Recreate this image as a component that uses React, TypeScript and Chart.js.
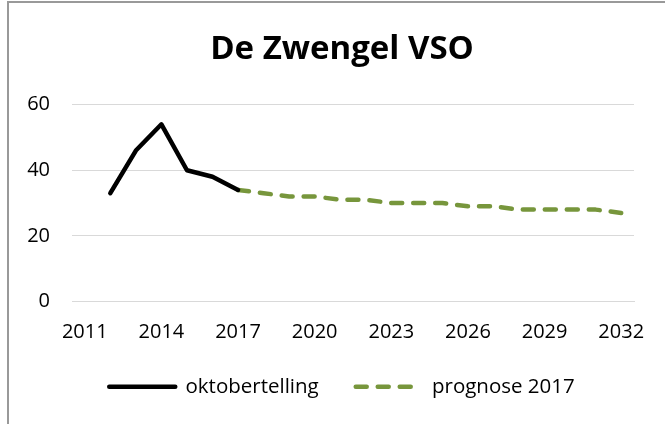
import React, { useEffect, useRef } from "react";
import { Chart, registerables } from "chart.js";

Chart.register(...registerables);

const titleText = "De Zwengel VSO";
const years = [
  "2011", "2012", "2013", "2014", "2015", "2016", "2017", "2018", "2019", "2020", "2021",
  "2022", "2023", "2024", "2025", "2026", "2027", "2028", "2029", "2030", "2031", "2032",
];
const oktobertelling = [null, 33, 46, 54, 40, 38, 34, null, null, null, null, null, null, null, null, null, null, null, null, null, null, null];
const prognose2017 = [null, null, null, null, null, null, 34, 33, 32, 32, 31, 31, 30, 30, 30, 29, 29, 28, 28, 28, 28, 27];
const yTicks = [0, 20, 40, 60];

const FONT = "'Open Sans', 'DejaVu Sans', sans-serif";

export default function App() {
  const ref = useRef<HTMLCanvasElement | null>(null);

  useEffect(() => {
    document.body.style.overflow = "hidden";
    const canvas = ref.current;
    if (!canvas) return;
    const chart = new Chart(canvas, {
      type: "line",
      data: {
        labels: years,
        datasets: [
          {
            label: "oktobertelling",
            data: oktobertelling,
            borderColor: "#000000",
            backgroundColor: "#000000",
            borderWidth: 4.5,
            borderCapStyle: "round",
            borderJoinStyle: "round",
            pointRadius: 0,
            tension: 0,
            spanGaps: false,
          },
          {
            label: "prognose 2017",
            data: prognose2017,
            borderColor: "#77963c",
            backgroundColor: "#77963c",
            borderWidth: 4.5,
            borderDash: [11, 11],
            borderCapStyle: "round",
            borderJoinStyle: "round",
            pointRadius: 0,
            tension: 0,
            spanGaps: false,
          },
        ],
      },
      options: {
        responsive: false,
        animation: false,
        layout: { padding: { left: 10, right: 0, top: 0, bottom: 17 } },
        plugins: {
          title: {
            display: true,
            text: titleText,
            color: "#000000",
            font: { family: FONT, size: 33, weight: "bold" },
            padding: { top: 27, bottom: 35 },
          },
          legend: {
            display: true,
            position: "bottom",
            labels: {
              usePointStyle: true,
              pointStyle: "line",
              pointStyleWidth: 66,
              boxHeight: 20,
              padding: 37,
              color: "#000000",
              font: { family: FONT, size: 20.5 },
              generateLabels: (ch: any) =>
                ch.data.datasets.map((ds: any, i: number) => ({
                  text: ds.label,
                  fillStyle: ds.borderColor,
                  strokeStyle: ds.borderColor,
                  lineWidth: 4.5,
                  lineDash: ds.borderDash || [],
                  lineCap: "round",
                  pointStyle: "line",
                  hidden: false,
                  datasetIndex: i,
                  fontColor: "#000000",
                })),
            },
          },
          tooltip: { enabled: false },
        },
        scales: {
          x: {
            type: "category",
            offset: true,
            grid: { display: false, drawTicks: true, tickLength: 16, tickColor: "rgba(0,0,0,0)" },
            border: { display: true, color: "#d9d9d9", width: 1 },
            ticks: {
              autoSkip: false,
              maxRotation: 0,
              padding: 3,
              color: "#000000",
              font: { family: FONT, size: 20 },
              callback: (_v: any, i: number) => (i % 3 === 0 ? years[i] : ""),
            },
            afterFit: (axis: any) => {
              axis.height -= 8;
            },
          },
          y: {
            min: 0,
            max: 60,
            afterBuildTicks: (axis: any) => {
              axis.ticks = yTicks.map((v) => ({ value: v }));
            },
            grid: { color: "#d9d9d9", lineWidth: 1, drawTicks: true, tickLength: 19, tickColor: "rgba(0,0,0,0)" },
            border: { display: false },
            ticks: {
              padding: 3,
              color: "#000000",
              font: { family: FONT, size: 20 },
            },
            afterFit: (axis: any) => {
              axis.width = 53;
            },
          },
          yr: {
            position: "right",
            min: 0,
            max: 60,
            grid: { display: false, drawTicks: false },
            border: { display: false },
            ticks: { display: false },
            afterFit: (axis: any) => {
              axis.width = 31;
            },
          },
        },
      },
    });
    return () => chart.destroy();
  }, []);

  return (
    <div
      style={{
        position: "fixed",
        left: 7,
        top: 1,
        width: 656,
        height: 421,
        borderLeft: "2px solid #999999",
        borderTop: "2px solid #999999",
        background: "#ffffff",
      }}
    >
      <canvas ref={ref} width={656} height={421} style={{ display: "block" }} />
    </div>
  );
}
